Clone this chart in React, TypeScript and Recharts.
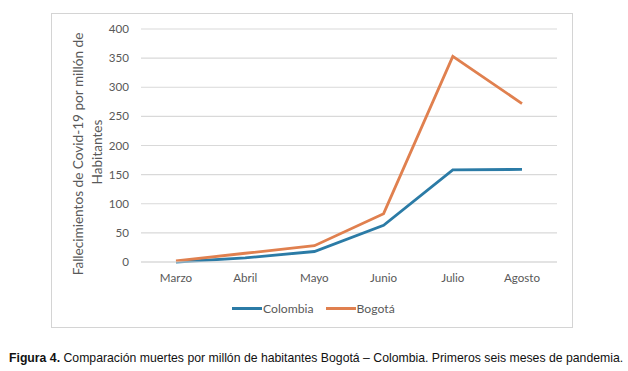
import { LineChart, Line, XAxis, YAxis, CartesianGrid } from 'recharts';

const months = ['Marzo', 'Abril', 'Mayo', 'Junio', 'Julio', 'Agosto'];
const colombia = [0, 7, 18, 63, 158, 159];
const bogota = [2, 15, 28, 83, 353, 272];
const yTicks = [0, 50, 100, 150, 200, 250, 300, 350, 400];

const seriesNames = ['Colombia', 'Bogotá'];
const seriesColors = ['#2b7ba6', '#e0804f'];

const data = months.map((m, i) => ({
  month: m,
  Colombia: colombia[i],
  Bogota: bogota[i],
}));

const font = 'Lato, "Open Sans", sans-serif';
const textGray = '#595959';

function AxisTitle() {
  return (
    <g fill={textGray} fontFamily={font} fontSize={13.6}>
      <text x={83} y={154} textAnchor="middle" transform="rotate(-90 83 154)">
        Fallecimientos de Covid-19 por millón de
      </text>
      <text x={102} y={152} textAnchor="middle" transform="rotate(-90 102 152)">
        Habitantes
      </text>
    </g>
  );
}

export default function App() {
  return (
    <div
      style={{
        position: 'absolute',
        left: 0,
        top: 0,
        width: 628,
        height: 371,
        background: '#fff',
      }}
    >
      <div
        style={{
          position: 'absolute',
          left: 51,
          top: 13,
          width: 520,
          height: 313,
          border: '1.5px solid #d4d4d4',
        }}
      />
      <div style={{ position: 'absolute', left: 0, top: 0 }}>
        <LineChart
          width={628}
          height={330}
          data={data}
          margin={{ top: 29, right: 71, left: 81, bottom: 38 }}
        >
          <CartesianGrid vertical={false} stroke="#d9d9d9" strokeWidth={1.2} />
          <XAxis
            dataKey="month"
            height={30}
            padding={{ left: 35, right: 35 }}
            axisLine={{ stroke: '#d9d9d9', strokeWidth: 1.2 }}
            tickLine={false}
            tickSize={0}
            tickMargin={12}
            tick={{ fill: textGray, fontSize: 11.6, fontFamily: font }}
          />
          <YAxis
            width={60}
            domain={[0, 400]}
            ticks={yTicks}
            axisLine={false}
            tickLine={false}
            tickSize={0}
            tickMargin={12}
            tick={{ fill: textGray, fontSize: 11.6, fontFamily: font }}
            label={{ content: () => <AxisTitle /> }}
          />
          <Line
            dataKey="Colombia"
            stroke={seriesColors[0]}
            strokeWidth={2.8}
            dot={false}
            isAnimationActive={false}
          />
          <Line
            dataKey="Bogota"
            stroke={seriesColors[1]}
            strokeWidth={2.8}
            dot={false}
            isAnimationActive={false}
          />
        </LineChart>
      </div>
      <div
        style={{
          position: 'absolute',
          left: 232,
          top: 301,
          display: 'flex',
          alignItems: 'center',
          fontFamily: font,
          fontSize: 12.2,
          color: textGray,
        }}
      >
        {seriesNames.map((name, i) => (
          <div
            key={name}
            style={{ display: 'flex', alignItems: 'center', marginRight: i === 0 ? 12 : 0 }}
          >
            <span
              style={{
                display: 'inline-block',
                width: 30,
                height: 3,
                background: seriesColors[i],
                marginRight: 1,
              }}
            />
            <span>{name}</span>
          </div>
        ))}
      </div>
      <div
        style={{
          position: 'absolute',
          left: 9,
          top: 351,
          fontFamily: '"Liberation Sans", Arial, sans-serif',
          fontSize: 12.25,
          color: '#111',
          whiteSpace: 'nowrap',
        }}
      >
        <b>Figura 4.</b> Comparación muertes por millón de habitantes Bogotá – Colombia. Primeros seis meses de pandemia.
      </div>
    </div>
  );
}
